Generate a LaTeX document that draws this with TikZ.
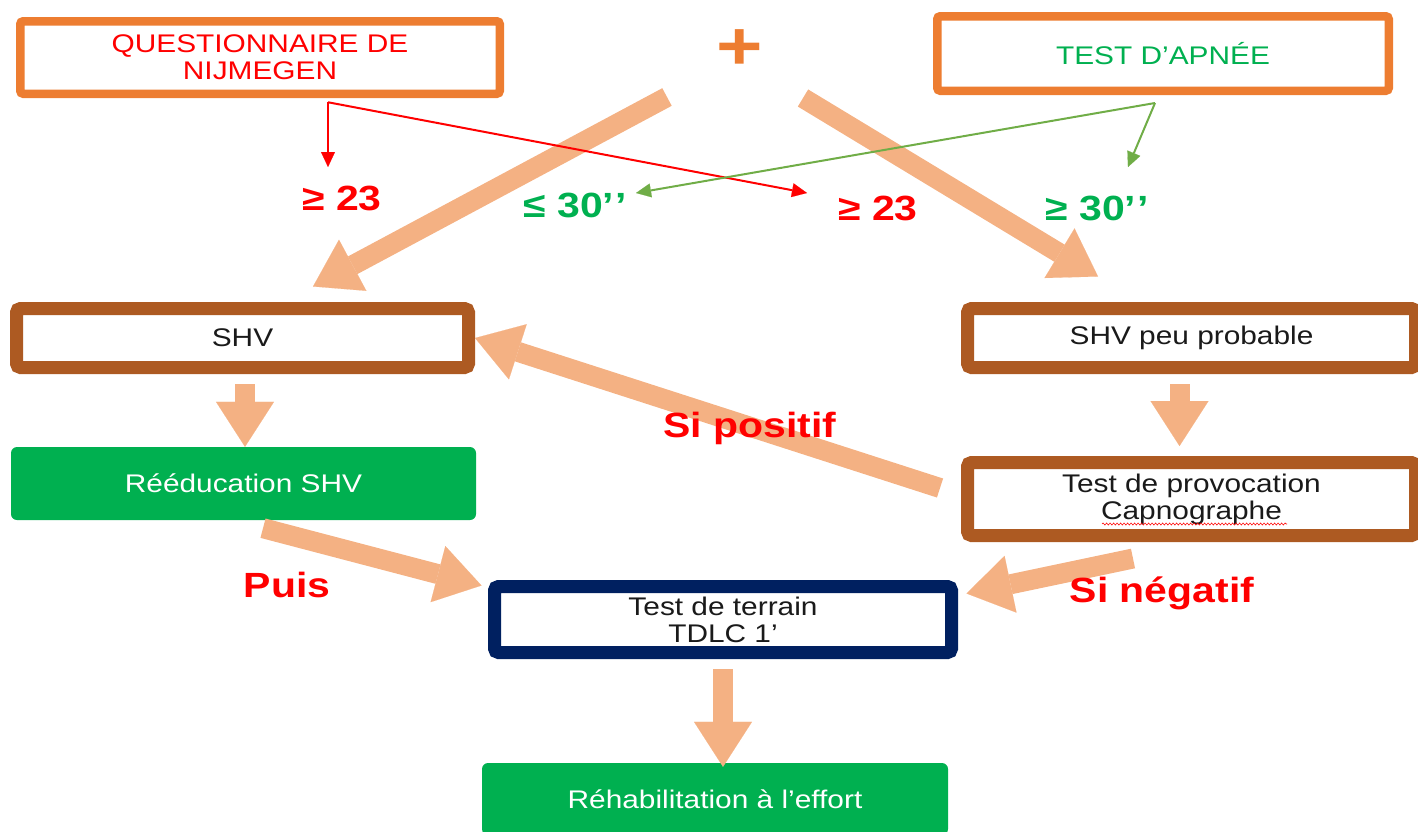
\documentclass[tikz,border=0pt]{standalone}
\usepackage{fontspec}
\setmainfont{Liberation Sans}[FakeStretch=1.17]
\usetikzlibrary{arrows.meta,decorations.pathmorphing}
\definecolor{cOrange}{HTML}{ED7D31}
\definecolor{cBrown}{HTML}{AD5A22}
\definecolor{cNavy}{HTML}{002060}
\definecolor{cGreen}{HTML}{00B050}
\definecolor{cGreenT}{HTML}{00B050}
\definecolor{cThinGreen}{HTML}{70AD47}
\definecolor{cArrow}{HTML}{F4B183}
\definecolor{cRed}{HTML}{FF0000}
\definecolor{cText}{HTML}{1A1A1A}
\begin{document}
\begin{tikzpicture}[x=1pt,y=-1pt,
  txt/.style={font=\fontsize{25.5}{27}\selectfont, align=center, inner sep=0pt},
  obox/.style={txt, draw=cOrange, line width=8.5pt, rounded corners=3pt, fill=white},
  bbox/.style={txt, draw=cBrown, line width=13pt, rounded corners=4pt, fill=white, text=cText},
  nbox/.style={txt, draw=cNavy, line width=13pt, rounded corners=4pt, fill=white, text=cText},
  gbox/.style={txt, fill=cGreen, rounded corners=6pt, text=white},
  lab/.style={font=\bfseries\fontsize{35}{38}\selectfont, inner sep=0pt, anchor=base},
  big/.style={color=cArrow, line width=20pt, -{Triangle[length=45pt,width=58pt,line width=0.1pt]}},
  thinred/.style={color=cRed, line width=2pt, -{Triangle[length=15pt,width=14pt,line width=0.1pt]}},
  thingreen/.style={color=cThinGreen, line width=2pt, -{Triangle[length=15pt,width=14pt,line width=0.1pt]}},
  squig/.style={draw=cRed, line width=0.6pt, decorate, decoration={snake, amplitude=1pt, segment length=3.5pt}}
]
\useasboundingbox (0,0) rectangle (1418,831);

% boxes
\node[obox, text=cRed, minimum width=479.5pt, minimum height=72.5pt] (qn) at (260,57.5) {QUESTIONNAIRE DE\\NIJMEGEN};
\node[obox, text=cGreenT, minimum width=451.5pt, minimum height=74.5pt] (tap) at (1163,53.5) {TEST D’APNÉE};
\node[lab, text=cOrange, font=\bfseries\fontsize{68}{70}\selectfont] (plus) at (740,69) {+};

\node[bbox, minimum width=452pt, minimum height=59pt] (shv) at (242.5,338) {SHV};
\node[bbox, minimum width=448pt, minimum height=59pt] (shvp) at (1191.5,338) {SHV peu probable};
\node[bbox, minimum width=448pt, minimum height=73pt] (prov) at (1191.5,499) {Test de provocation\\Capnographe};
\node[gbox, minimum width=465pt, minimum height=73pt] (ree) at (243.5,483.5) {Rééducation SHV};
\node[nbox, minimum width=457pt, minimum height=66pt] (ter) at (723,619.5) {Test de terrain\\TDLC 1’};
\node[gbox, minimum width=466pt, minimum height=72pt] (reh) at (715,799) {Réhabilitation à l’effort};

\draw[squig] ([xshift=-89.5pt,yshift=-25pt]prov.center) -- ([xshift=95.5pt,yshift=-25pt]prov.center);

% big arrows
\coordinate (d1) at (667,97);
\coordinate (d2) at (803,98);
\coordinate (d3) at (940,488);
\draw[big] (d1) -- ([xshift=70.5pt,yshift=15.5pt]shv.north);
\draw[big] (d2) -- ([xshift=-93.5pt,yshift=25.5pt]shvp.north);
\draw[big] ([xshift=2.5pt,yshift=-10pt]shv.south) -- ([xshift=1.5pt]ree.north);
\draw[big] ([xshift=-12pt,yshift=-10pt]shvp.south) -- ([xshift=-12pt,yshift=10pt]prov.north);
\draw[big] (d3) -- (shv.east);
\draw[big] ([xshift=19.5pt,yshift=-8pt]ree.south) -- ([xshift=-6.5pt,yshift=-5.5pt]ter.north west);
\draw[big] ([xshift=-58.5pt,yshift=-16.5pt]prov.south) -- ([xshift=8.5pt,yshift=-13.5pt]ter.north east);
\draw[big] ([yshift=-10pt]ter.south) -- ([xshift=8pt,yshift=-4pt]reh.north);

% labels
\node[lab, text=cRed] (g1) at (342,210) {≥ 23};
\node[lab, text=cGreenT] (l30) at (575,217) {≤ 30’\kern1pt’};
\node[lab, text=cRed] (g2) at (878,220) {≥ 23};
\node[lab, text=cGreenT] (g30) at (1097,220) {≥ 30’\kern1pt’};
\node[lab, text=cRed] (sipos) at (750,437) {Si positif};
\node[lab, text=cRed] (puis) at (287,597) {Puis};
\node[lab, text=cRed] (sineg) at (1162,602) {Si négatif};

% thin arrows
\coordinate (rq) at ([xshift=68pt,yshift=-4.25pt]qn.south);
\coordinate (gq) at ([xshift=-8pt,yshift=-8pt]tap.south);
\draw[thinred] (rq) -- ([xshift=-14pt,yshift=43pt]g1.base);
\draw[thinred] (rq) -- ([xshift=-71pt,yshift=27pt]g2.base);
\draw[thingreen] (gq) -- ([xshift=31pt,yshift=53pt]g30.base);
\draw[thingreen] (gq) -- ([xshift=61pt,yshift=24pt]l30.base);
\end{tikzpicture}
\end{document}
